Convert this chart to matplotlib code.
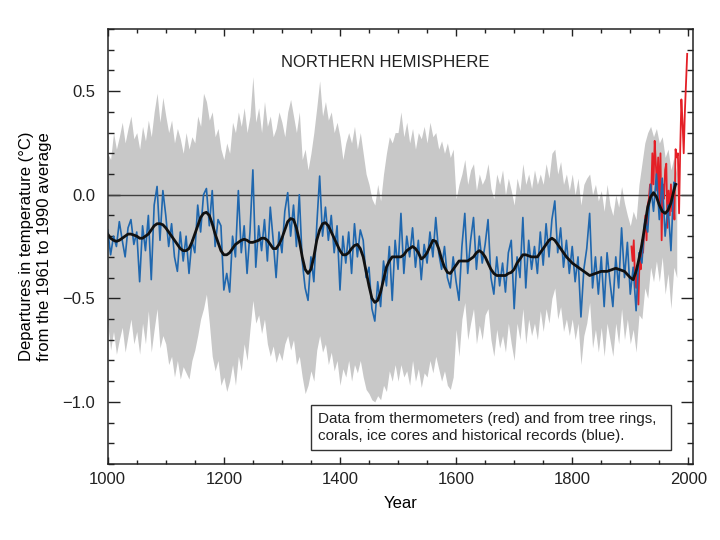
import numpy as np
import matplotlib
matplotlib.use("Agg")
from matplotlib import pyplot as plt
from matplotlib.patches import Rectangle
from matplotlib.ticker import MultipleLocator, FuncFormatter

plt.rcParams['font.family'] = ['Liberation Sans', 'DejaVu Sans']

# proxy reconstruction (blue), one value every 5 years, 1000-1980
proxy_years = np.arange(1000, 1981, 5)
proxy = [
    -0.17, -0.29, -0.20, -0.25, -0.13, -0.22, -0.30, -0.16, -0.12, -0.24,
    -0.18, -0.42, -0.15, -0.27, -0.10, -0.41, -0.05, 0.04, -0.22, 0.02,
    -0.10, -0.25, -0.14, -0.30, -0.37, -0.18, -0.32, -0.20, -0.38, -0.22,
    -0.28, -0.05, -0.18, 0.00, 0.03, -0.15, 0.02, -0.25, -0.12, -0.15,
    -0.46, -0.38, -0.47, -0.20, -0.30, 0.02, -0.28, -0.15, -0.38, -0.18,
    0.12, -0.35, -0.15, -0.27, -0.12, -0.32, -0.06, -0.22, -0.40, -0.18,
    -0.28, -0.08, 0.01, -0.20, -0.05, -0.25, 0.00, -0.32, -0.45, -0.51,
    -0.30, -0.42, -0.15, 0.09, -0.20, -0.06, -0.22, -0.10, -0.28, -0.15,
    -0.46, -0.20, -0.33, -0.18, -0.38, -0.14, -0.30, -0.17, -0.22, -0.40,
    -0.35, -0.55, -0.61, -0.42, -0.54, -0.32, -0.44, -0.25, -0.51, -0.22,
    -0.36, -0.09, -0.38, -0.20, -0.30, -0.16, -0.35, -0.22, -0.41, -0.24,
    -0.33, -0.18, -0.30, -0.11, -0.28, -0.36, -0.25, -0.40, -0.45, -0.30,
    -0.42, -0.51, -0.25, -0.09, -0.38, -0.22, -0.11, -0.36, -0.20, -0.33,
    -0.24, -0.12, -0.40, -0.48, -0.30, -0.44, -0.33, -0.47, -0.28, -0.22,
    -0.55, -0.30, -0.40, -0.11, -0.45, -0.22, -0.36, -0.25, -0.38, -0.18,
    -0.34, -0.14, -0.30, -0.12, -0.03, -0.28, -0.16, -0.35, -0.22, -0.38,
    -0.25, -0.42, -0.30, -0.59, -0.36, -0.26, -0.09, -0.45, -0.30, -0.48,
    -0.30, -0.54, -0.28, -0.42, -0.54, -0.30, -0.45, -0.16, -0.40, -0.23,
    -0.48, -0.35, -0.56, -0.28, -0.33, -0.12, -0.18, 0.05, -0.08, 0.10,
    -0.12, 0.08, -0.20, -0.05, -0.27, 0.06, 0.05,
]

# uncertainty band (grey), same years
band_upper = [
    0.20, 0.17, 0.30, 0.22, 0.28, 0.35, 0.25, 0.32, 0.38, 0.27,
    0.30, 0.22, 0.33, 0.26, 0.36, 0.28, 0.40, 0.49, 0.35, 0.47,
    0.38, 0.30, 0.36, 0.25, 0.32, 0.27, 0.20, 0.30, 0.22, 0.28,
    0.25, 0.38, 0.33, 0.49, 0.45, 0.36, 0.40, 0.28, 0.32, 0.22,
    0.17, 0.25, 0.20, 0.35, 0.30, 0.40, 0.33, 0.42, 0.30, 0.38,
    0.57, 0.35, 0.42, 0.30, 0.45, 0.33, 0.38, 0.28, 0.32, 0.40,
    0.35, 0.28, 0.40, 0.46, 0.38, 0.30, 0.40, 0.17, 0.22, 0.12,
    0.20, 0.30, 0.42, 0.55, 0.38, 0.45, 0.36, 0.40, 0.30, 0.35,
    0.28, 0.17, 0.25, 0.30, 0.25, 0.33, 0.22, 0.30, 0.20, 0.10,
    0.05, -0.02, -0.05, 0.05, -0.03, 0.10, 0.20, 0.28, 0.25, 0.30,
    0.30, 0.40, 0.28, 0.35, 0.25, 0.32, 0.22, 0.30, 0.27, 0.33,
    0.25, 0.35, 0.28, 0.30, 0.22, 0.26, 0.20, 0.25, 0.18, 0.22,
    -0.02, 0.05, 0.10, 0.17, 0.05, 0.12, 0.15, 0.02, 0.10, 0.05,
    0.08, 0.15, 0.03, -0.02, 0.10, 0.05, 0.12, 0.00, 0.08, 0.02,
    -0.05, 0.08, 0.02, 0.15, 0.05, 0.10, 0.03, 0.12, 0.05, 0.10,
    0.05, 0.15, 0.08, 0.20, 0.22, 0.10, 0.16, 0.05, 0.10, 0.02,
    0.10, 0.00, 0.08, -0.05, 0.05, 0.08, 0.10, 0.00, 0.05, -0.03,
    0.02, -0.08, 0.05, -0.05, -0.10, 0.00, -0.06, 0.04, -0.04, -0.10,
    -0.15, -0.08, -0.12, 0.05, 0.15, 0.25, 0.30, 0.33, 0.28, 0.32,
    0.25, 0.28, 0.18, 0.22, 0.12, 0.18, 0.10,
]
band_lower = [
    -0.62, -0.75, -0.66, -0.77, -0.70, -0.64, -0.76, -0.68, -0.60, -0.72,
    -0.66, -0.77, -0.62, -0.72, -0.56, -0.76, -0.65, -0.55, -0.74, -0.68,
    -0.72, -0.82, -0.78, -0.88, -0.80, -0.89, -0.83, -0.86, -0.89, -0.80,
    -0.75, -0.68, -0.60, -0.55, -0.48, -0.62, -0.78, -0.85, -0.80, -0.92,
    -0.88, -0.95, -0.90, -0.82, -0.92, -0.78, -0.85, -0.72, -0.80, -0.65,
    -0.51, -0.62, -0.58, -0.67, -0.60, -0.72, -0.78, -0.73, -0.81, -0.76,
    -0.80, -0.72, -0.68, -0.75, -0.70, -0.82, -0.78, -0.88, -0.96, -0.92,
    -0.85, -0.90, -0.75, -0.68, -0.76, -0.72, -0.82, -0.76, -0.85, -0.80,
    -0.92, -0.84, -0.88, -0.80, -0.90, -0.82, -0.86, -0.80, -0.88, -0.94,
    -0.96, -0.99, -1.00, -0.97, -0.99, -0.92, -0.95, -0.85, -0.90, -0.82,
    -0.90, -0.82, -0.88, -0.85, -0.92, -0.80, -0.90, -0.84, -0.93, -0.86,
    -0.88, -0.80, -0.86, -0.78, -0.84, -0.90, -0.85, -0.92, -0.94, -0.88,
    -0.65, -0.78, -0.60, -0.52, -0.70, -0.62, -0.55, -0.72, -0.63, -0.70,
    -0.58, -0.55, -0.70, -0.78, -0.65, -0.74, -0.68, -0.76, -0.62, -0.72,
    -0.80, -0.62, -0.70, -0.55, -0.72, -0.60, -0.68, -0.62, -0.70, -0.56,
    -0.66, -0.55, -0.62, -0.50, -0.45, -0.60, -0.54, -0.66, -0.60, -0.68,
    -0.60, -0.70, -0.62, -0.82, -0.68, -0.62, -0.52, -0.74, -0.65, -0.76,
    -0.64, -0.78, -0.62, -0.70, -0.78, -0.62, -0.72, -0.55, -0.70, -0.60,
    -0.72, -0.65, -0.76, -0.58, -0.60, -0.45, -0.50, -0.35, -0.42, -0.32,
    -0.42, -0.30, -0.48, -0.38, -0.55, -0.35, -0.40,
]

# smoothed curve (black), every 5 years to 1975, last point 1978
smooth_years = np.append(np.arange(1000, 1976, 5), 1978)
smooth = [
    -0.19, -0.21, -0.22, -0.225, -0.22, -0.21, -0.20, -0.19, -0.19, -0.195,
    -0.20, -0.21, -0.21, -0.20, -0.19, -0.17, -0.15, -0.14, -0.14, -0.145,
    -0.16, -0.18, -0.20, -0.22, -0.24, -0.26, -0.27, -0.27, -0.26, -0.23,
    -0.19, -0.15, -0.11, -0.09, -0.085, -0.10, -0.14, -0.19, -0.23, -0.27,
    -0.29, -0.29, -0.28, -0.26, -0.24, -0.23, -0.22, -0.215, -0.22, -0.23,
    -0.23, -0.225, -0.22, -0.21, -0.21, -0.22, -0.24, -0.26, -0.26, -0.24,
    -0.21, -0.17, -0.13, -0.115, -0.12, -0.16, -0.22, -0.30, -0.36, -0.38,
    -0.36, -0.30, -0.22, -0.17, -0.14, -0.135, -0.15, -0.18, -0.21, -0.24,
    -0.27, -0.29, -0.29, -0.28, -0.26, -0.245, -0.24, -0.26, -0.30, -0.37,
    -0.44, -0.50, -0.52, -0.51, -0.47, -0.41, -0.35, -0.32, -0.30, -0.30,
    -0.30, -0.30, -0.29, -0.27, -0.26, -0.25, -0.26, -0.28, -0.31, -0.30,
    -0.28, -0.25, -0.22, -0.225, -0.26, -0.31, -0.35, -0.375, -0.38, -0.36,
    -0.34, -0.32, -0.32, -0.32, -0.32, -0.31, -0.30, -0.28, -0.27, -0.28,
    -0.30, -0.33, -0.36, -0.38, -0.39, -0.39, -0.39, -0.39, -0.38, -0.375,
    -0.36, -0.33, -0.31, -0.29, -0.29, -0.295, -0.30, -0.30, -0.30, -0.28,
    -0.26, -0.24, -0.22, -0.21, -0.22, -0.24, -0.26, -0.28, -0.30, -0.315,
    -0.33, -0.34, -0.35, -0.36, -0.37, -0.38, -0.39, -0.385, -0.38, -0.375,
    -0.37, -0.37, -0.37, -0.365, -0.36, -0.355, -0.36, -0.365, -0.37, -0.385,
    -0.40, -0.41, -0.37, -0.31, -0.24, -0.15, -0.06, -0.01, 0.01, -0.01,
    -0.05, -0.08, -0.09, -0.075, -0.04, 0.02, 0.05,
]

# thermometer record (red), every 2 years
thermo_years = np.arange(1902, 1999, 2)
thermo = [
    -0.25, -0.32, -0.22, -0.40, -0.45, -0.38, -0.53, -0.30, -0.36, -0.22,
    -0.28, -0.18, -0.10, -0.22, -0.05, -0.02, 0.05, 0.00, 0.20, 0.05,
    0.26, 0.15, 0.02, 0.18, -0.05, 0.20, -0.22, 0.05, -0.02, 0.12,
    0.15, -0.16, 0.02, -0.10, 0.05, -0.08, 0.00, -0.12, 0.22, 0.18,
    0.20, -0.09, 0.22, 0.46, 0.35, 0.20, 0.40, 0.54, 0.68,
]

fig = plt.figure(figsize=(7.2, 5.4), dpi=100)
ax = fig.add_axes([0.1496, 0.1407, 0.8129, 0.8056])

ax.fill_between(proxy_years, band_lower, band_upper, color="#c8c8c8", lw=0)
ax.axhline(0, color="#404040", lw=1.0)
ax.plot(thermo_years, thermo, color="#e41f26", lw=1.3)
ax.plot(proxy_years, proxy, color="#1f67ae", lw=1.2)
ax.plot(smooth_years, smooth, color="#111111", lw=2.0)

ax.set_xlim(1000, 2008)
ax.set_ylim(-1.3, 0.8)
ax.xaxis.set_major_locator(MultipleLocator(200))
ax.xaxis.set_minor_locator(MultipleLocator(50))
ax.yaxis.set_major_locator(MultipleLocator(0.5))
ax.yaxis.set_minor_locator(MultipleLocator(0.1))
ax.yaxis.set_major_formatter(
    FuncFormatter(lambda v, p: ("%.1f" % v).replace("-", "\u2212")))

ax.tick_params(which="both", direction="in", top=True, right=True,
               labelsize=12, colors="#222222")
ax.tick_params(axis="y", which="major", length=8.5, width=1.0, pad=9)
ax.tick_params(axis="y", which="minor", length=4.5, width=1.0)
ax.tick_params(axis="x", which="major", length=5, width=1.0, pad=6)
ax.tick_params(axis="x", which="minor", length=3, width=1.0)
for s in ax.spines.values():
    s.set_linewidth(1.1)
    s.set_color("#222222")

ax.set_xlabel("Year", fontsize=12, labelpad=6)
ax.set_ylabel("Departures in temperature (\u00b0C)\nfrom the 1961 to 1990 average",
              fontsize=12, linespacing=1.25)
ax.yaxis.set_label_coords(-0.095, 0.5)

ax.text(0.474, 0.922, "NORTHERN HEMISPHERE", transform=ax.transAxes,
        ha="center", va="center", fontsize=12, color="#222222")

ax.add_patch(Rectangle((0.347, 0.032), 0.615, 0.104, transform=ax.transAxes,
                       fc="white", ec="#333333", lw=1.0, zorder=5))
ax.text(0.360, 0.084,
        "Data from thermometers (red) and from tree rings,\n"
        "corals, ice cores and historical records (blue).",
        transform=ax.transAxes, ha="left", va="center", fontsize=11,
        linespacing=1.2, color="#222222", zorder=6)

plt.savefig("out.png", dpi=100)
